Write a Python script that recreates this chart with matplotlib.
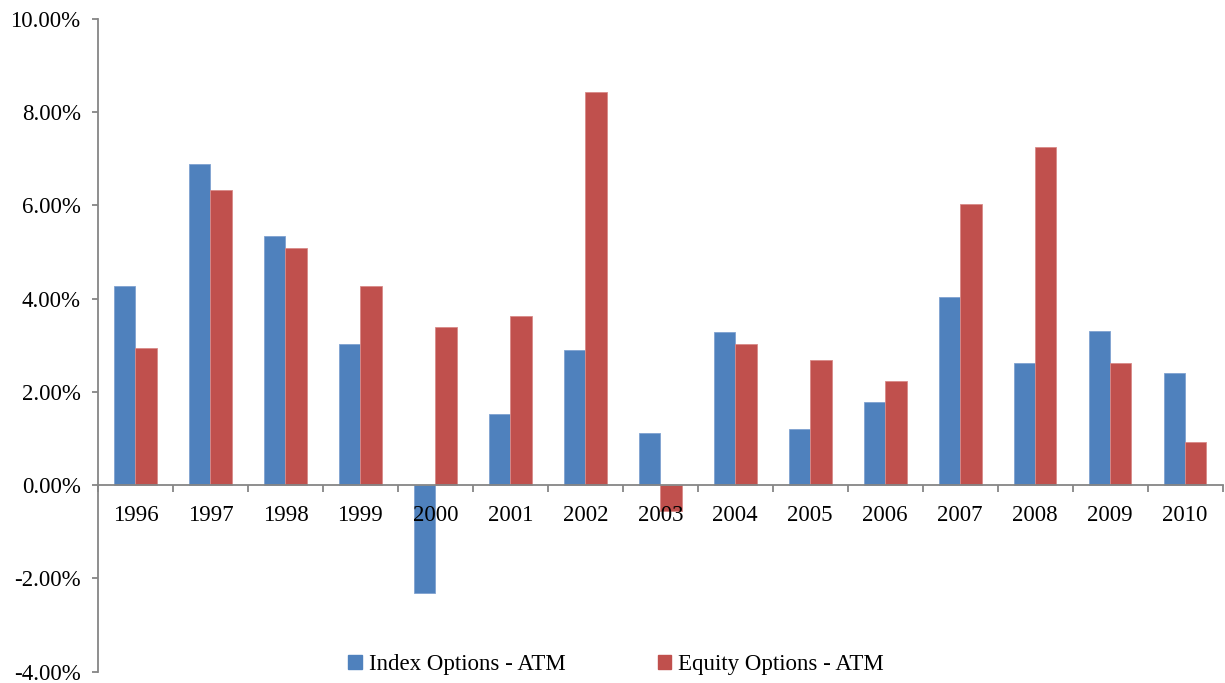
import numpy as np
import matplotlib
matplotlib.use("Agg")
import matplotlib.pyplot as plt
from matplotlib.patches import Patch
from matplotlib.ticker import FuncFormatter

years = ["1996", "1997", "1998", "1999", "2000", "2001", "2002", "2003",
         "2004", "2005", "2006", "2007", "2008", "2009", "2010"]
index_atm = [4.27, 6.88, 5.34, 3.02, -2.31, 1.53, 2.90, 1.11,
             3.29, 1.20, 1.78, 4.03, 2.63, 3.31, 2.41]
equity_atm = [2.94, 6.33, 5.08, 4.27, 3.39, 3.63, 8.43, -0.55,
              3.02, 2.68, 2.23, 6.03, 7.25, 2.63, 0.93]

blue = "#4F81BD"
red = "#C0504D"
grey = "#868686"

plt.rcParams["font.family"] = ["Liberation Serif", "DejaVu Serif"]
plt.rcParams["font.size"] = 16.5

fig = plt.figure(figsize=(12.25, 6.83), dpi=100)
ax = fig.add_axes([0.08, 0.0166, 0.918, 0.9556])

x = np.arange(len(years))
w = 0.285
ax.bar(x - w / 2, index_atm, w, color=blue, edgecolor="#7fa2d0", linewidth=0.6)
ax.bar(x + w / 2, equity_atm, w, color=red, edgecolor="#d98a88", linewidth=0.6)

ax.set_xlim(-0.5, len(years) - 0.5)
ax.set_ylim(-4, 10)
ax.set_yticks(np.arange(-4, 10.1, 2))
ax.yaxis.set_major_formatter(FuncFormatter(lambda v, p: "{:.2f}%".format(v)))

for s in ["top", "right"]:
    ax.spines[s].set_visible(False)
ax.spines["bottom"].set_position(("data", 0))
for s in ["left", "bottom"]:
    ax.spines[s].set_color(grey)
    ax.spines[s].set_linewidth(1.3)

# labels at centres, tick marks at category boundaries
ax.set_xticks(x)
ax.set_xticklabels(years)
ax.set_xticks(np.arange(-0.5, len(years), 1), minor=True)
ax.tick_params(axis="x", which="major", length=0, pad=14)
ax.tick_params(axis="x", which="minor", length=5, width=1.3, color=grey, direction="out")
ax.tick_params(axis="y", length=4.5, width=1.3, color=grey, pad=8)

handles = [Patch(color=blue), Patch(color=red)]
fig.legend(handles, ["Index Options - ATM", "Equity Options - ATM"],
           loc="center", bbox_to_anchor=(0.503, 0.027), ncol=2, frameon=False,
           handlelength=0.6, handleheight=0.6, handletextpad=0.3,
           columnspacing=4.0, fontsize=16.5)

fig.savefig("out.png", dpi=100, facecolor="white")
